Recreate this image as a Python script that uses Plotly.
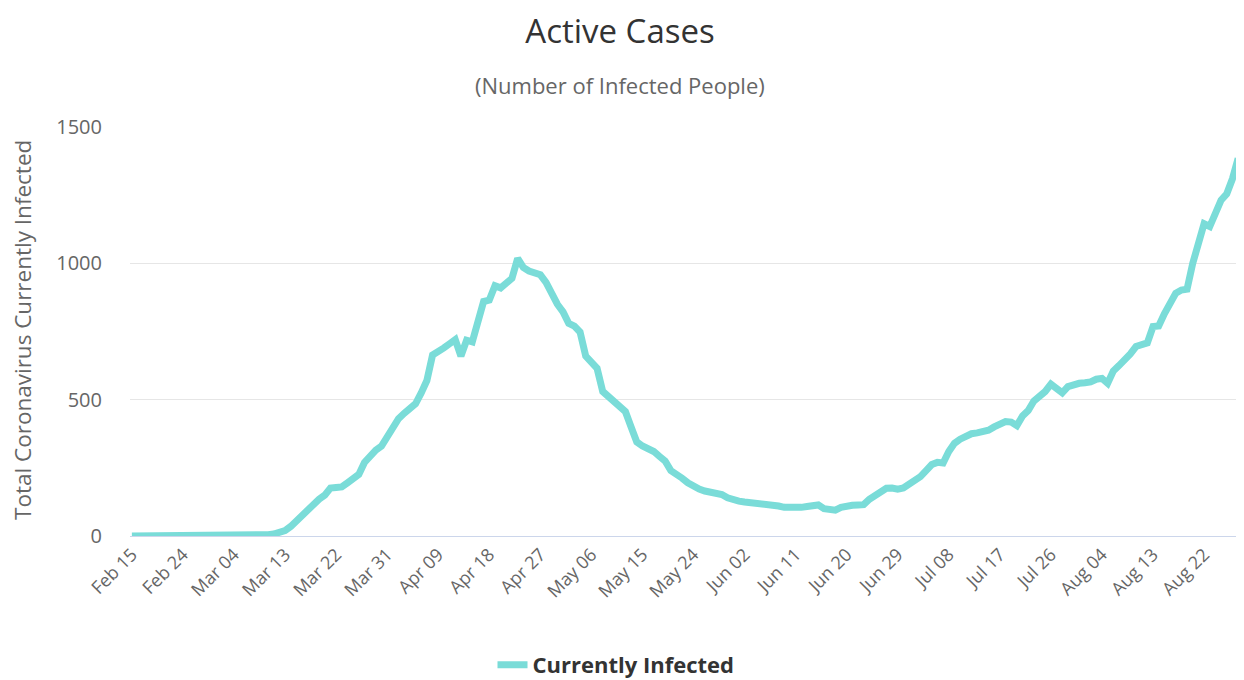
import plotly.graph_objects as go
import pandas as pd

start_date = "2020-02-15"
end_date = "2020-08-28"

active_cases = [
    0, 0, 0, 0, 0, 0, 0, 0, 0, 0,
    0, 0, 0, 0, 0, 0, 0, 0, 1, 1,
    2, 2, 3, 4, 5, 7, 12, 20, 35, 55,
    75, 100, 115, 135, 150, 176, 178, 180, 195, 210,
    226, 270, 295, 315, 330, 365, 405, 430, 450, 470,
    485, 525, 570, 664, 675, 690, 705, 720, 660, 718,
    712, 790, 860, 865, 918, 910, 925, 945, 1018, 985,
    972, 968, 958, 930, 885, 850, 822, 780, 770, 748,
    660, 640, 615, 530, 510, 490, 470, 456, 400, 345,
    330, 320, 310, 292, 275, 240, 228, 212, 195, 182,
    172, 165, 162, 158, 152, 140, 132, 128, 125, 123,
    122, 121, 120, 115, 110, 105, 103, 104, 105, 108,
    110, 114, 100, 98, 95, 105, 112, 113, 114, 115,
    135, 150, 165, 175, 176, 172, 176, 190, 205, 218,
    240, 262, 270, 268, 310, 340, 355, 368, 375, 378,
    382, 388, 400, 410, 420, 418, 405, 440, 460, 495,
    510, 530, 557, 540, 525, 548, 555, 560, 562, 565,
    575, 578, 560, 605, 625, 645, 668, 695, 705, 708,
    768, 770, 815, 850, 890, 902, 905, 1000, 1070, 1145,
    1135, 1180, 1232, 1255, 1310, 1385,
]

dates = pd.date_range(start_date, end_date, freq="D")

y_tick_values = [0, 500, 1000, 1500]
x_tick_dates = pd.date_range(start_date, "2020-08-22", freq="9D")
x_tick_labels = [d.strftime("%b %d") for d in x_tick_dates]

line_color = "#7adcd8"
font_family = "Open Sans, DejaVu Sans, sans-serif"

# The page body has an 8px margin, so the figure is drawn 8px smaller
# and all positions are offset by 8px.
OFF = 8
W, H = 1244 - OFF, 680 - OFF
PL, PR, PT, PB = 130 - OFF, 1240 - OFF, 127 - OFF, 536 - OFF
PW, PH = PR - PL, PB - PT

fig = go.Figure()
fig.add_trace(go.Scatter(
    x=dates,
    y=active_cases,
    mode="lines",
    name="Currently Infected",
    line=dict(color=line_color, width=7),
))

fig.update_layout(
    width=W,
    height=H,
    paper_bgcolor="white",
    plot_bgcolor="white",
    font=dict(family=font_family, color="#666666"),
    margin=dict(l=PL, r=W - PR, t=PT, b=H - PB, autoexpand=False),
    title=dict(
        text="Active Cases",
        x=(620 - OFF) / W, xanchor="center",
        y=1 - (31.5 - OFF) / H, yanchor="middle",
        xref="container", yref="container",
        font=dict(size=33, color="#333333", family=font_family),
    ),
    annotations=[
        dict(
            text="(Number of Infected People)",
            xref="paper", yref="paper",
            x=(620 - OFF - PL) / PW, y=(PB - (85 - OFF)) / PH,
            xanchor="center", yanchor="middle",
            showarrow=False,
            font=dict(size=22, color="#666666", family=font_family),
        ),
        dict(
            text="Total Coronavirus Currently Infected",
            xref="paper", yref="paper",
            x=(22 - OFF - PL) / PW, y=(PB - (330 - OFF)) / PH,
            xanchor="center", yanchor="middle",
            textangle=-90,
            showarrow=False,
            font=dict(size=22.5, color="#666666", family=font_family),
        ),
    ],
    showlegend=True,
    legend=dict(
        orientation="h",
        x=(616 - OFF - PL) / PW, xanchor="center",
        y=(PB - (665 - OFF)) / PH, yanchor="middle",
        font=dict(size=22, color="#333333", family=font_family, weight="bold"),
        itemwidth=30,
    ),
    xaxis=dict(
        range=[pd.Timestamp(start_date) - pd.Timedelta(hours=8),
               pd.Timestamp(end_date) + pd.Timedelta(hours=8)],
        tickvals=list(x_tick_dates),
        ticktext=x_tick_labels,
        tickangle=-45,
        tickfont=dict(size=18, color="#666666"),
        showgrid=False,
        showline=True,
        linecolor="#ccd6eb",
        linewidth=1,
        zeroline=False,
        ticks="",
        automargin=False,
    ),
    yaxis=dict(
        range=[0, 1500],
        tickvals=y_tick_values,
        tickfont=dict(size=20, color="#666666"),
        showgrid=True,
        gridcolor="#e6e6e6",
        gridwidth=1,
        zeroline=False,
        ticks="",
        ticklabelstandoff=27,
        automargin=False,
    ),
)

fig.write_html("out.html")
